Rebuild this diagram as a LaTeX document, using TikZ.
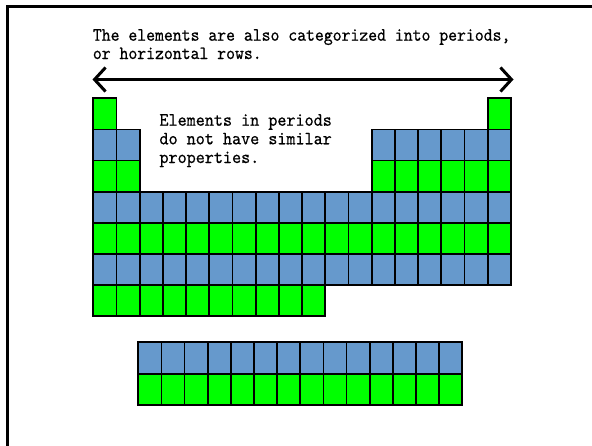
\documentclass[tikz,border=0pt]{standalone}
\usepackage{fontspec}
\usetikzlibrary{arrows.meta}
\newfontfamily\painta[FakeStretch=0.90,FakeBold=0.6]{lmmono10-regular.otf}
\newfontfamily\paintb[FakeStretch=0.919,FakeBold=0.6]{lmmono10-regular.otf}
\definecolor{pblue}{RGB}{102,153,204}
\definecolor{pgreen}{RGB}{0,255,0}
\tikzset{
  cellbox/.style={draw=black,line width=1.8pt},
  txta/.style={anchor=base west,inner sep=0pt,font=\painta\fontsize{18.8}{18.8}\selectfont},
  txtb/.style={anchor=base west,inner sep=0pt,font=\paintb\fontsize{18.8}{18.8}\selectfont},
  frame/.style={draw=black,line width=3pt},
  rowarrow/.style={line width=3pt,{Straight Barb[length=11pt,width=24pt,line width=3pt]}-{Straight Barb[length=11pt,width=24pt,line width=3pt]}}
}
\newcommand{\pcell}[3]{\path[cellbox,fill=#3] ({93.3+(#1-1)*23.2},{98.3+(#2-1)*31.1}) rectangle ++(23.2,31.1);}
\newcommand{\fcell}[3]{\path[cellbox,fill=#3] ({138.3+(#1-1)*23.14},{342.3+(#2-1)*31.3}) rectangle ++(23.14,31.3);}
\begin{document}
\begin{tikzpicture}[x=1pt,y=-1pt]
\useasboundingbox (0,0) rectangle (592,445);
\clip (0,0) rectangle (592,445);
\fill[white] (0,0) rectangle (592,445);
\draw[frame] (7.5,6.5) rectangle (620,470);
% text
\node[txta] (t1a) at (92.7,40.7) {The elements are also categorized into periods,};
\node[txta] (t1b) at (92.7,59.0) {or horizontal rows.};
\node[txtb] (t2a) at (159.3,125.7) {Elements in periods};
\node[txtb] (t2b) at (159.3,144.3) {do not have similar};
\node[txtb] (t2c) at (159.3,163.0) {properties.};
% arrow
\coordinate (aL) at (92.5,79.5);
\coordinate (aR) at (513.5,79.5);
\draw[rowarrow] (aL) -- (aR);
% main table
\pcell{1}{1}{pgreen}
\pcell{18}{1}{pgreen}
\foreach \c in {1,2,13,14,15,16,17,18} {\pcell{\c}{2}{pblue}\pcell{\c}{3}{pgreen}}
\foreach \c in {1,...,18} {\pcell{\c}{4}{pblue}\pcell{\c}{5}{pgreen}\pcell{\c}{6}{pblue}}
\foreach \c in {1,...,10} {\pcell{\c}{7}{pgreen}}
% f-block
\foreach \c in {1,...,14} {\fcell{\c}{1}{pblue}\fcell{\c}{2}{pgreen}}
\end{tikzpicture}
\end{document}
